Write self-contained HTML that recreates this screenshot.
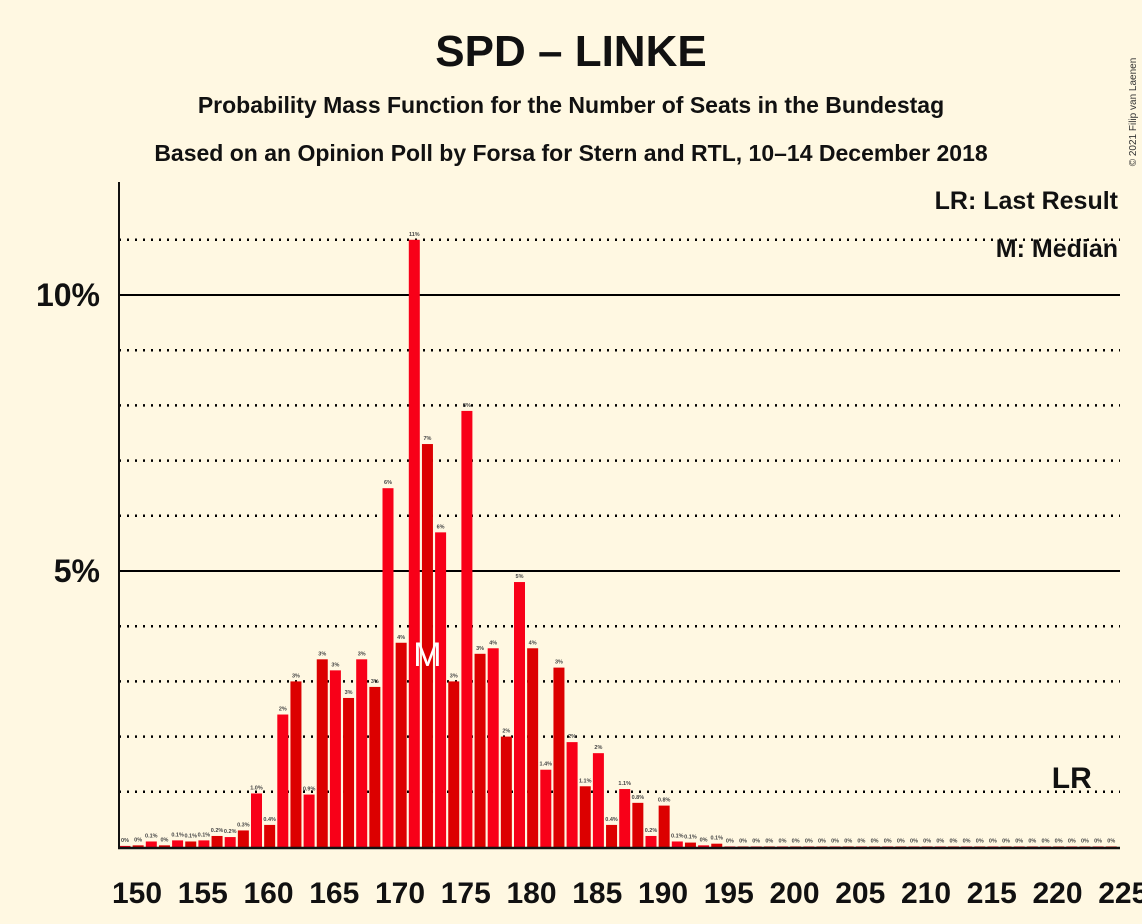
<!DOCTYPE html>
<html><head><meta charset="utf-8"><style>
body{margin:0;background:#fff8e2;font-family:"Liberation Sans",sans-serif}
svg{display:block}
</style></head><body>
<svg id="c" width="1142" height="924" xmlns="http://www.w3.org/2000/svg">
<rect width="1142" height="924" fill="#fff8e2"/>
<text x="571" y="66" text-anchor="middle" font-size="44" font-weight="bold" fill="#111">SPD – LINKE</text>
<text x="571" y="113" text-anchor="middle" font-size="23" font-weight="bold" fill="#111">Probability Mass Function for the Number of Seats in the Bundestag</text>
<text x="571" y="161" text-anchor="middle" font-size="23" font-weight="bold" fill="#111">Based on an Opinion Poll by Forsa for Stern and RTL, 10–14 December 2018</text>
<text x="1136" y="112" transform="rotate(-90 1136 112)" text-anchor="middle" font-size="10" fill="#333">© 2021 Filip van Laenen</text>
<text x="1118" y="209" text-anchor="end" font-size="25" font-weight="bold" fill="#111">LR: Last Result</text>
<text x="1118" y="257" text-anchor="end" font-size="25" font-weight="bold" fill="#111">M: Median</text>
<g id="grid"></g><g id="bars"></g><g id="axes"></g>
</svg>
<script>
const seats=[];for(let s=150;s<=225;s++)seats.push(s);
const probs=[0.02,0.03,0.1,0.03,0.12,0.1,0.12,0.2,0.18,0.3,0.97,0.4,2.4,3.0,0.95,3.4,3.2,2.7,3.4,2.9,6.5,3.7,11.0,7.3,5.7,3.0,7.9,3.5,3.6,2.0,4.8,3.6,1.4,3.25,1.9,1.1,1.7,0.4,1.05,0.8,0.2,0.75,0.1,0.08,0.03,0.06,0.01,0.01,0.01,0.01,0.01,0.01,0.01,0.01,0.01,0.01,0.01,0.01,0.01,0.01,0.01,0.01,0.01,0.01,0.01,0.01,0.01,0.01,0.01,0.01,0.01,0.01,0.01,0.01,0.01,0.01];
const labels=["0%","0%","0.1%","0%","0.1%","0.1%","0.1%","0.2%","0.2%","0.3%","1.0%","0.4%","2%","3%","0.9%","3%","3%","3%","3%","3%","6%","4%","11%","7%","6%","3%","8%","3%","4%","2%","5%","4%","1.4%","3%","2%","1.1%","2%","0.4%","1.1%","0.8%","0.2%","0.8%","0.1%","0.1%","0%","0.1%"];
const yTicks=[5,10];
const median=173, lastResult=222;
const NS="http://www.w3.org/2000/svg";
const x0=125,step=13.15,base=847,pp=55.2;
const X=s=>x0+(s-150)*step, Y=v=>base-v*pp;
function mk(t,a,p){const e=document.createElementNS(NS,t);for(const k in a)e.setAttribute(k,a[k]);p.appendChild(e);return e;}
const grid=document.getElementById('grid'),bars=document.getElementById('bars'),axes=document.getElementById('axes');
for(let v=1;v<=11;v++){const solid=yTicks.includes(v);
 const l=mk('line',{x1:119,x2:1120,y1:Y(v),y2:Y(v),stroke:'#000','stroke-width':solid?2:2.5,'stroke-dasharray':solid?'':'2,6'},grid);
 
 }
yTicks.forEach(v=>{const t=mk('text',{x:100,y:Y(v)+11,'text-anchor':'end','font-size':32,'font-weight':'bold',fill:'#111'},axes);t.textContent=v+'%';
 
 });
seats.forEach((s,i)=>{const v=probs[i];if(v<=0)return;
 const r=mk('rect',{x:X(s)-5.5,y:Y(v),width:11,height:v*pp,fill:s%2?'#dc0000':'#f80018'},bars);
 
 
 const lab=labels[i]!==undefined?labels[i]:'0%';
 const t=mk('text',{x:X(s),y:Y(v)-4,'text-anchor':'middle','font-size':5.5,'font-weight':'bold',fill:'#444'},bars);t.textContent=lab;
 
 });
const m=mk('text',{x:X(median),y:Y(3.5)+12,'text-anchor':'middle','font-size':34,fill:'#fff'},bars);m.textContent='M';


const lr=mk('text',{x:X(lastResult),y:788,'text-anchor':'middle','font-size':30,'font-weight':'bold',fill:'#111'},bars);lr.textContent='LR';


const ya=mk('line',{x1:119,x2:119,y1:182,y2:849,stroke:'#111','stroke-width':2},axes);


const xa=mk('line',{x1:118,x2:1120,y1:848,y2:848,stroke:'#111','stroke-width':2.5},axes);


seats.filter(s=>s%5===0).forEach(s=>{const t=mk('text',{x:X(s)+12,y:903,'text-anchor':'middle','font-size':30,'font-weight':'bold',fill:'#111'},axes);t.textContent=s;
 
 });
</script>
</body></html>
